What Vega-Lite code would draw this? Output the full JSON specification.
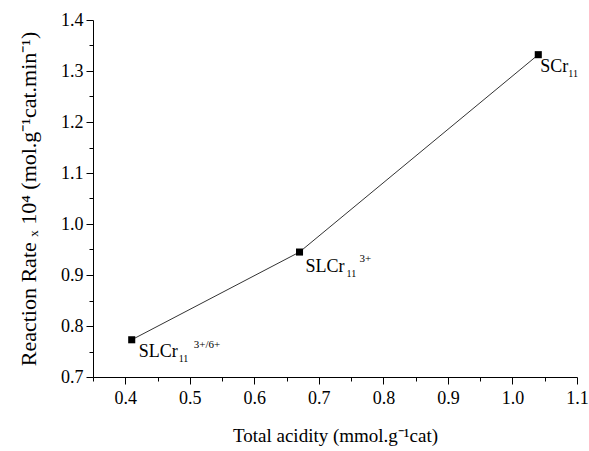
{
  "$schema": "https://vega.github.io/schema/vega-lite/v6.json",
  "autosize": {"type": "none"},
  "padding": {"left": 93, "top": 20, "right": 12, "bottom": 74},
  "width": 484,
  "height": 357,
  "background": "white",
  "config": {
    "view": {"stroke": null},
    "font": "Liberation Serif",
    "axis": {
      "domainColor": "black",
      "domainWidth": 1,
      "tickColor": "black",
      "tickWidth": 1,
      "labelColor": "black",
      "titleColor": "black",
      "labelFont": "Liberation Serif",
      "titleFont": "Liberation Serif",
      "labelFontSize": 18,
      "titleFontWeight": "normal",
      "grid": false
    }
  },
  "data": {
    "values": [
      {"id": 1, "acidity": 0.41, "rate": 0.773, "base": "SLCr", "sub": "11", "sup": "3+/6+"},
      {"id": 2, "acidity": 0.67, "rate": 0.945, "base": "SLCr", "sub": "11", "sup": "3+"},
      {"id": 3, "acidity": 1.04, "rate": 1.332, "base": "SCr", "sub": "11", "sup": ""}
    ]
  },
  "encoding": {
    "x": {
      "field": "acidity",
      "type": "quantitative",
      "scale": {"domain": [0.35, 1.1], "nice": false, "zero": false},
      "axis": {
        "title": "Total acidity (mmol.g⁻¹cat)",
        "titleFontSize": 19,
        "values": [0.35, 0.4, 0.45, 0.5, 0.55, 0.6, 0.65, 0.7, 0.75, 0.8, 0.85, 0.9, 0.95, 1.0, 1.05, 1.1],
        "labelExpr": "abs(datum.value*10 - round(datum.value*10)) < 0.01 ? format(datum.value, '.1f') : ''",
        "tickSize": {"condition": {"test": "abs(datum.value*10 - round(datum.value*10)) > 0.01", "value": 4}, "value": 7},
        "labelPadding": 5,
        "titlePadding": 19,
        "labelFlush": false,
        "labelOverlap": false
      }
    },
    "y": {
      "field": "rate",
      "type": "quantitative",
      "scale": {"domain": [0.7, 1.4], "nice": false, "zero": false},
      "axis": {
        "title": "Reaction Rate ₓ 10⁴ (mol.g⁻¹cat.min⁻¹)",
        "titleFontSize": 22,
        "values": [0.7, 0.75, 0.8, 0.85, 0.9, 0.95, 1.0, 1.05, 1.1, 1.15, 1.2, 1.25, 1.3, 1.35, 1.4],
        "labelExpr": "abs(datum.value*10 - round(datum.value*10)) < 0.01 ? format(datum.value, '.1f') : ''",
        "tickSize": {"condition": {"test": "abs(datum.value*10 - round(datum.value*10)) > 0.01", "value": 4}, "value": 7},
        "labelPadding": 3,
        "titlePadding": 20,
        "labelFlush": false,
        "labelOverlap": false
      }
    }
  },
  "layer": [
    {"mark": {"type": "line", "color": "#333333", "strokeWidth": 1}},
    {"mark": {"type": "point", "shape": "square", "filled": true, "color": "black", "size": 50, "opacity": 1}},
    {
      "transform": [{"filter": "datum.id == 1"}],
      "layer": [
        {"mark": {"type": "text", "align": "left", "baseline": "alphabetic", "dx": 7, "dy": 17, "fontSize": 18, "color": "black"}, "encoding": {"text": {"field": "base"}}},
        {"mark": {"type": "text", "align": "left", "baseline": "alphabetic", "dx": 47, "dy": 22, "fontSize": 10, "color": "black"}, "encoding": {"text": {"field": "sub"}}},
        {"mark": {"type": "text", "align": "left", "baseline": "alphabetic", "dx": 62, "dy": 8, "fontSize": 11, "color": "black"}, "encoding": {"text": {"field": "sup"}}}
      ]
    },
    {
      "transform": [{"filter": "datum.id == 2"}],
      "layer": [
        {"mark": {"type": "text", "align": "left", "baseline": "alphabetic", "dx": 6, "dy": 20, "fontSize": 18, "color": "black"}, "encoding": {"text": {"field": "base"}}},
        {"mark": {"type": "text", "align": "left", "baseline": "alphabetic", "dx": 47, "dy": 25, "fontSize": 10, "color": "black"}, "encoding": {"text": {"field": "sub"}}},
        {"mark": {"type": "text", "align": "left", "baseline": "alphabetic", "dx": 60, "dy": 10, "fontSize": 11, "color": "black"}, "encoding": {"text": {"field": "sup"}}}
      ]
    },
    {
      "transform": [{"filter": "datum.id == 3"}],
      "layer": [
        {"mark": {"type": "text", "align": "left", "baseline": "alphabetic", "dx": 2, "dy": 17, "fontSize": 18, "color": "black"}, "encoding": {"text": {"field": "base"}}},
        {"mark": {"type": "text", "align": "left", "baseline": "alphabetic", "dx": 30, "dy": 22, "fontSize": 10, "color": "black"}, "encoding": {"text": {"field": "sub"}}}
      ]
    }
  ]
}
